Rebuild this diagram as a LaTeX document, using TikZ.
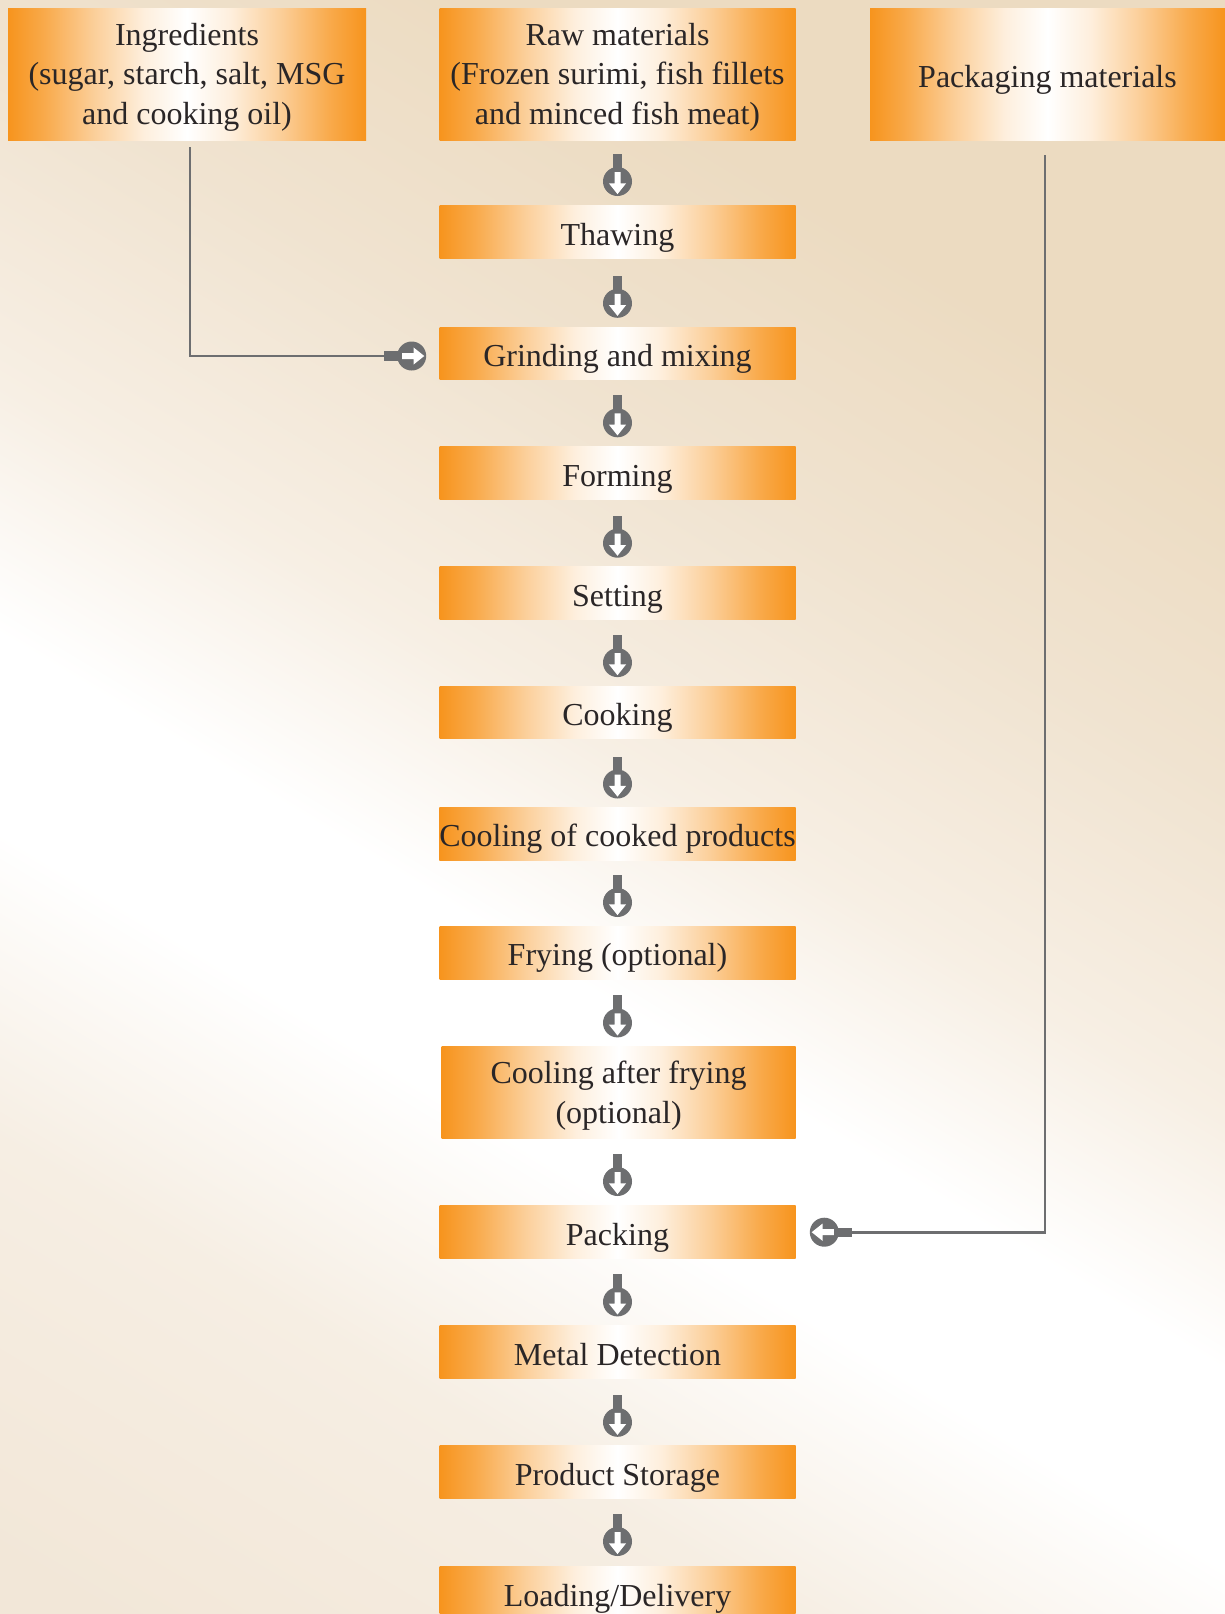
\documentclass[tikz,border=0pt]{standalone}
\usepackage{fontspec}
\setmainfont{Liberation Serif}
\definecolor{org}{HTML}{F7941D}
\colorlet{orgA}{org!80!white}
\colorlet{orgB}{org!45!white}
\colorlet{orgC}{org!15!white}
\definecolor{icongray}{HTML}{6D6E70}
\definecolor{txt}{HTML}{2A2627}
\definecolor{bgA}{HTML}{F7EFE4}
\definecolor{bgB}{HTML}{F0E3D0}
\definecolor{bgC}{HTML}{ECDBC1}
\definecolor{bgL1}{HTML}{F6EEE3}
\definecolor{bgL2}{HTML}{F2E7D8}
\pgfdeclarehorizontalshading{boxshade}{100bp}{color(0bp)=(org); color(25bp)=(org); color(30bp)=(orgA); color(37bp)=(orgB); color(44bp)=(orgC); color(50bp)=(white); color(56bp)=(orgC); color(63bp)=(orgB); color(70bp)=(orgA); color(75bp)=(org); color(100bp)=(org)}
\pgfdeclareverticalshading{bgshade}{100bp}{color(0bp)=(bgL2); color(35bp)=(bgL2); color(42.5bp)=(bgL1); color(48bp)=(white); color(51.5bp)=(white); color(56bp)=(bgA); color(62bp)=(bgB); color(68bp)=(bgC); color(100bp)=(bgC)}
\newcommand\boxfont{\fontsize{16}{19.75}\selectfont}
\tikzset{
  proc/.style={shade, shading=boxshade, inner sep=0pt, minimum width=178pt,
    minimum height=26.25pt, font=\boxfont, text=txt, align=center,
    text height=13.1pt, text depth=0pt},
  multi/.style={text height=, text depth=0.5pt},
  conn/.style={draw=icongray, line width=1.4pt},
  flowicon/.pic={
    \fill[icongray] (-4.7,-27.5) rectangle (4.7,-12);
    \fill[icongray] (0,0) circle (14.5);
    \fill[white] (-3,-9.5) -- (3,-9.5) -- (3,1.8) -- (8.6,1.8) -- (0,12.6)
      -- (-8.6,1.8) -- (-3,1.8) -- cycle;
  }
}
\begin{document}
\begin{tikzpicture}[x=0.5pt,y=-0.5pt]
\useasboundingbox (0,0) rectangle (1225,1614);
% background
\begin{scope}
  \clip (0,0) rectangle (1225,1614);
  \shade[shading=bgshade, shading angle=-31] (-588,-113) rectangle (1812,2287);
\end{scope}
% top boxes
\node[proc, multi, minimum width=179pt, minimum height=66pt] (ingr) at (187,74)
  {Ingredients\\(sugar, starch, salt, MSG\\and cooking oil)};
\node[proc, multi, minimum height=66pt] (raw) at (617.5,74)
  {Raw materials\\(Frozen surimi, fish fillets\\and minced fish meat)};
\node[proc, minimum width=177.5pt, minimum height=66pt] (pkgm) at (1047.5,74)
  {Packaging materials};
% process steps
\node[proc] (thaw) at (617.5,232.2) {Thawing};
\node[proc] (grind) at (617.5,353.5) {Grinding and mixing};
\node[proc] (form) at (617.5,473) {Forming};
\node[proc] (sett) at (617.5,593) {Setting};
\node[proc] (cook) at (617.5,712.3) {Cooking};
\node[proc] (cool1) at (617.5,833.8) {Cooling of cooked products};
\node[proc] (fry) at (617.5,952.8) {Frying (optional)};
\node[proc, multi, minimum width=177pt, minimum height=45.8pt] (cool2) at (618.6,1092.7)
  {Cooling after frying\\(optional)};
\node[proc] (pack) at (617.5,1232.2) {Packing};
\node[proc] (metal) at (617.5,1352.2) {Metal Detection};
\node[proc] (store) at (617.5,1472) {Product Storage};
\node[proc] (load) at (617.5,1593) {Loading/Delivery};
% flow icons between steps
\pic (i1) at (617.5,181.5) {flowicon};
\pic (i2) at (617.5,303.3) {flowicon};
\pic (i3) at (617.5,422.8) {flowicon};
\pic (i4) at (617.5,543.2) {flowicon};
\pic (i5) at (617.5,662.6) {flowicon};
\pic (i6) at (617.5,784) {flowicon};
\pic (i7) at (617.5,902.5) {flowicon};
\pic (i8) at (617.5,1022.9) {flowicon};
\pic (i9) at (617.5,1181.5) {flowicon};
\pic (i10) at (617.5,1301.9) {flowicon};
\pic (i11) at (617.5,1422.3) {flowicon};
\pic (i12) at (617.5,1541.5) {flowicon};
% side inputs
\coordinate (ingrdrop) at (190,147);
\coordinate (grindin) at (384,356);
\draw[conn] (ingrdrop) |- (grindin);
\pic[rotate=90] (ia) at (411.7,356) {flowicon};
\coordinate (pkgdrop) at (1045,155);
\coordinate (packin) at (852,1232.2);
\draw[conn] (pkgdrop) |- (packin);
\pic[rotate=-90] (ib) at (824.3,1232.2) {flowicon};
\end{tikzpicture}
\end{document}
